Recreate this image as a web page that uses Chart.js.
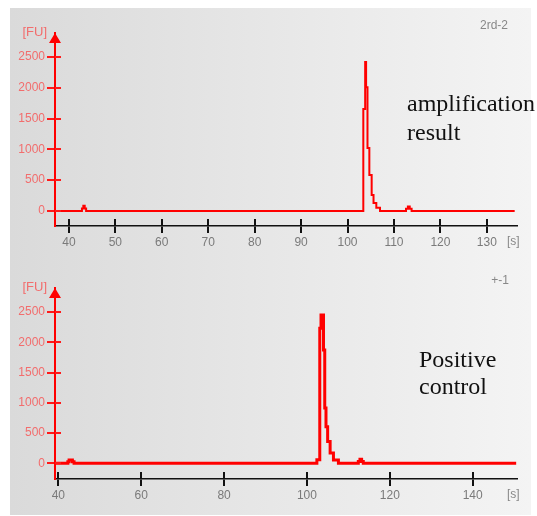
<!DOCTYPE html>
<html>
<head>
<meta charset="utf-8">
<script src="https://cdn.jsdelivr.net/npm/chart.js@4.4.1/dist/chart.umd.min.js"></script>
<style>
  html, body { margin: 0; padding: 0; background: #fff; }
  body { width: 537px; height: 516px; position: relative; overflow: hidden; }
  #panel { position: absolute; left: 10px; top: 8px; width: 521px; height: 507px;
           background: linear-gradient(to right, #dadada, #f4f4f4); }
  canvas { position: absolute; left: 10px; }
  #c1 { top: 8px; }
  #c2 { top: 258px; }
  .note { position: absolute; font-family: "Liberation Serif", serif; font-size: 24px; color: #111; white-space: nowrap; }
  .tag { position: absolute; font-family: "Liberation Sans", sans-serif; font-size: 12px; line-height: 14px; color: #888; white-space: nowrap; }
</style>
</head>
<body>
<div id="panel"></div>
<canvas id="c1" width="521" height="250"></canvas>
<canvas id="c2" width="521" height="257"></canvas>
<div class="tag" style="right:29px; top:18px;">2rd-2</div>
<div class="tag" style="right:28px; top:273px;">+-1</div>
<div class="note" style="left:407px; top:89px; line-height:29px;">amplification<br>result</div>
<div class="note" style="left:419px; top:346px; line-height:27px;">Positive<br>control</div>
<script>
// 上圖 2rd-2：時間 [s] 與螢光 [FU]
const topTime = [37, 42.8, 43.1, 43.4, 43.7, 103.4, 103.8, 104.0, 104.3, 104.7, 105.2, 105.6, 106.2, 107.0, 112.6, 113.0, 113.4, 113.8, 136];
const topFU   = [0, 40, 85, 40, 0, 1655, 2420, 2010, 1020, 585, 260, 130, 50, 0, 35, 70, 35, 0, 0];
const topXTicks = [40, 50, 60, 70, 80, 90, 100, 110, 120, 130];

// 下圖 +-1（陽性對照）
const botTime = [39.2, 42.3, 42.6, 43.0, 43.4, 43.8, 102.4, 103.1, 103.4, 104.0, 104.3, 104.6, 105.0, 105.6, 106.4, 107.6, 112.4, 112.8, 113.2, 113.6, 150.5];
const botFU   = [0, 25, 55, 55, 25, 0, 60, 2235, 2455, 1875, 915, 605, 360, 170, 55, 0, 30, 65, 30, 0, 0];
const botXTicks = [40, 60, 80, 100, 120, 140];

const fuTicks = [0, 500, 1000, 1500, 2000, 2500];

const axisDecor = {
    id: 'axisDecor',
    afterDraw(chart) {
        const ctx = chart.ctx;
        const a = chart.chartArea;
        const x = chart.scales.x;
        const y = chart.scales.y;
        ctx.save();

        // 刻度往內延伸的部分
        ctx.lineWidth = 2;
        ctx.strokeStyle = '#ff1a1a';
        fuTicks.forEach(v => {
            const py = Math.round(y.getPixelForValue(v));
            ctx.beginPath();
            ctx.moveTo(a.left, py);
            ctx.lineTo(a.left + 6, py);
            ctx.stroke();
        });
        ctx.strokeStyle = '#111';
        x.ticks.forEach(t => {
            const px = Math.round(x.getPixelForValue(t.value));
            ctx.beginPath();
            ctx.moveTo(px, a.bottom);
            ctx.lineTo(px, a.bottom - 7);
            ctx.stroke();
        });

        // y 軸箭頭
        ctx.fillStyle = '#ff0000';
        ctx.beginPath();
        ctx.moveTo(a.left, a.top);
        ctx.lineTo(a.left - 6, a.top + 10);
        ctx.lineTo(a.left + 6, a.top + 10);
        ctx.closePath();
        ctx.fill();

        // 單位
        ctx.font = '13px "Liberation Sans"';
        ctx.fillStyle = '#f26d6d';
        ctx.textAlign = 'right';
        ctx.textBaseline = 'middle';
        ctx.fillText('[FU]', a.left - 8, a.top - 1);
        ctx.font = '12px "Liberation Sans"';
        ctx.fillStyle = '#888';
        ctx.textAlign = 'left';
        ctx.fillText('[s]', a.right - 10, a.bottom + 16);
        ctx.restore();
    }
};

function makeChart(id, times, values, xTicks, xMin, xMax, yMin, yMax, lineW, padTop, xHeight) {
    return new Chart(document.getElementById(id).getContext('2d'), {
        type: 'line',
        data: {
            datasets: [{
                data: times.map((t, i) => ({ x: t, y: values[i] })),
                borderColor: '#ff0000',
                borderWidth: lineW,
                pointRadius: 0,
                stepped: true,
                fill: false
            }]
        },
        options: {
            responsive: false,
            animation: false,
            layout: { padding: { left: 0, right: 14, top: padTop, bottom: 0 } },
            scales: {
                x: {
                    type: 'linear',
                    min: xMin,
                    max: xMax,
                    afterBuildTicks: s => { s.ticks = xTicks.map(v => ({ value: v })); },
                    afterFit: s => { s.height = xHeight; },
                    grid: { drawOnChartArea: false, tickLength: 7, color: '#111', lineWidth: 2 },
                    border: { color: '#111', width: 1.5 },
                    ticks: {
                        color: '#7a7a7a',
                        font: { family: 'Liberation Sans', size: 12 },
                        padding: 2,
                        maxRotation: 0,
                        autoSkip: false,
                        callback: v => String(v)
                    }
                },
                y: {
                    type: 'linear',
                    min: yMin,
                    max: yMax,
                    afterBuildTicks: s => { s.ticks = fuTicks.map(v => ({ value: v })); },
                    afterFit: s => { s.width = 45; },
                    grid: { drawOnChartArea: false, tickLength: 8, color: '#ff1a1a', lineWidth: 2 },
                    border: { color: '#ff0000', width: 2 },
                    ticks: {
                        color: '#f26d6d',
                        font: { family: 'Liberation Sans', size: 12 },
                        padding: 2,
                        callback: v => String(v)
                    }
                }
            },
            plugins: {
                legend: { display: false },
                tooltip: { enabled: false }
            }
        },
        plugins: [axisDecor]
    });
}

makeChart('c1', topTime, topFU, topXTicks, 37, 136.5, -245, 2890, 2, 25, 32);
makeChart('c2', botTime, botFU, botXTicks, 39.2, 150.7, -260, 2900, 3, 30, 36);
</script>
</body>
</html>
